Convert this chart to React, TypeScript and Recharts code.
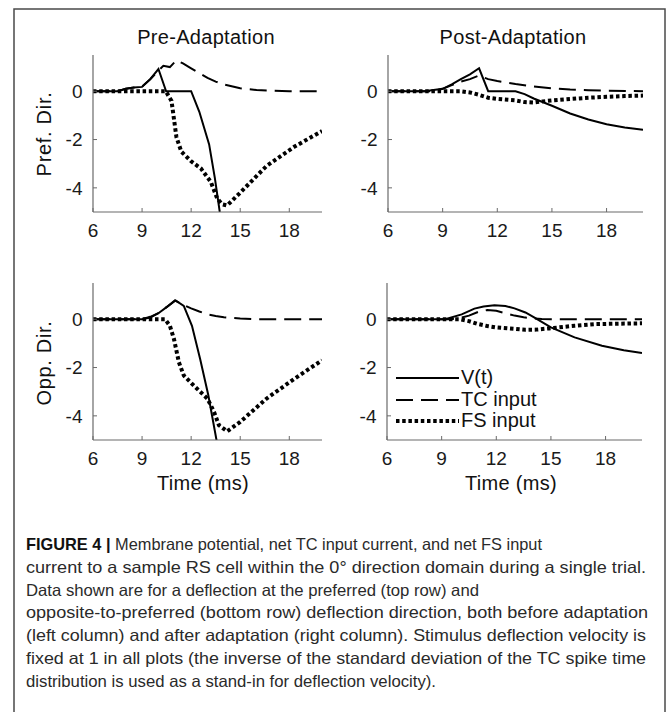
import React from 'react';
import { LineChart, Line, XAxis, YAxis, Legend } from 'recharts';

const FONT = '"Liberation Sans", Arial, Helvetica, sans-serif';

// ---------- axis / label text ----------
const timeTicks = [6, 9, 12, 15, 18];
const valueTicks = [-4, -2, 0];
const columnTitles = ['Pre-Adaptation', 'Post-Adaptation'];
const rowLabels = ['Pref. Dir.', 'Opp. Dir.'];
const xAxisLabel = 'Time (ms)';
const seriesNames = ['V(t)', 'TC input', 'FS input'];

// ---------- Pre-Adaptation, preferred direction ----------
const prePrefVTime = [6, 7.5, 8, 8.5, 9, 9.5, 10, 10.47, 12, 12.5, 13.1, 13.45, 13.75, 13.95];
const prePrefV = [0, 0, 0.1, 0.15, 0.18, 0.5, 0.92, 0, 0, -0.85, -2.2, -3.6, -5, -5.7];
const prePrefTCTime = [6, 7.5, 8, 8.5, 9, 9.5, 10, 10.3, 10.7, 11.1, 11.5, 12, 12.5, 13, 13.5, 14, 15, 16, 17, 18, 20];
const prePrefTC = [0, 0, 0.1, 0.15, 0.2, 0.5, 0.85, 1.05, 1.0, 1.28, 1.15, 0.95, 0.75, 0.55, 0.4, 0.28, 0.12, 0.05, 0.02, 0, 0];
const prePrefFSTime = [6, 10.45, 10.8, 11.1, 11.4, 12.0, 12.6, 13.2, 13.6, 13.9, 14.2, 15.0, 16.6, 18.3, 20];
const prePrefFS = [0, 0, -0.4, -1.9, -2.5, -2.9, -3.2, -3.75, -4.45, -4.68, -4.73, -4.2, -3.1, -2.3, -1.65];

// ---------- Post-Adaptation, preferred direction ----------
const postPrefVTime = [6, 8, 9, 9.5, 10, 10.5, 11, 11.5, 13, 13.5, 14, 15, 16, 17, 18, 19, 20];
const postPrefV = [0, 0, 0.1, 0.28, 0.5, 0.7, 0.95, 0, 0, -0.12, -0.3, -0.6, -0.92, -1.17, -1.37, -1.5, -1.6];
const postPrefTCTime = [6, 8.5, 9, 9.5, 10, 10.5, 11, 11.5, 12, 13, 14, 15, 16, 17, 18, 20];
const postPrefTC = [0, 0, 0.1, 0.25, 0.4, 0.5, 0.65, 0.5, 0.42, 0.3, 0.2, 0.12, 0.07, 0.04, 0.02, 0];
const postPrefFSTime = [6, 10, 10.5, 11, 11.5, 12, 13, 13.5, 14, 14.5, 15, 16, 17, 18, 19, 20];
const postPrefFS = [0, 0, -0.05, -0.15, -0.27, -0.32, -0.38, -0.45, -0.47, -0.42, -0.38, -0.32, -0.27, -0.23, -0.2, -0.18];

// ---------- Pre-Adaptation, opposite direction ----------
const preOppVTime = [6, 9, 9.5, 10, 10.5, 11.05, 11.55, 12.05, 12.55, 13.05, 13.55, 13.7];
const preOppV = [0, 0, 0.07, 0.25, 0.5, 0.78, 0.55, -0.27, -1.65, -3.15, -5.0, -5.6];
const preOppTCTime = [6, 9, 9.5, 10, 10.5, 11, 11.5, 12, 12.5, 13, 13.5, 14, 15, 16, 20];
const preOppTC = [0, 0, 0.1, 0.25, 0.5, 0.78, 0.6, 0.45, 0.32, 0.2, 0.13, 0.08, 0.03, 0, 0];
const preOppFSTime = [6, 10.4, 10.7, 10.95, 11.25, 11.55, 12.15, 13.0, 13.4, 13.7, 14.2, 15.0, 16.6, 18.3, 20];
const preOppFS = [0, 0, -0.27, -0.82, -1.78, -2.33, -2.74, -3.29, -3.84, -4.39, -4.64, -4.25, -3.29, -2.47, -1.7];

// ---------- Post-Adaptation, opposite direction ----------
const postOppVTime = [6, 9.2, 10.1, 10.8, 11.3, 11.9, 12.5, 13.0, 13.6, 14.1, 15.0, 16.3, 17.8, 19, 20];
const postOppV = [0, 0, 0.2, 0.44, 0.53, 0.58, 0.55, 0.45, 0.28, 0.07, -0.34, -0.75, -1.1, -1.28, -1.4];
const postOppTCTime = [6, 9.5, 10, 10.5, 11, 11.5, 12, 12.5, 13, 13.5, 14, 14.5, 15, 20];
const postOppTC = [0, 0, 0.05, 0.15, 0.3, 0.38, 0.35, 0.25, 0.15, 0.08, 0.03, 0.01, 0, 0];
const postOppFSTime = [6, 10, 10.5, 11, 11.5, 12, 13, 13.6, 14.2, 14.9, 16.3, 17.5, 20];
const postOppFS = [0, 0, -0.08, -0.2, -0.28, -0.34, -0.4, -0.44, -0.43, -0.38, -0.27, -0.2, -0.17];

// ---------- caption ----------
const captionLead = 'FIGURE 4 |';
const captionLines = [
  ' Membrane potential, net TC input current, and net FS input',
  'current to a sample RS cell within the 0\u00B0 direction domain during a single trial.',
  'Data shown are for a deflection at the preferred (top row) and',
  'opposite-to-preferred (bottom row) deflection direction, both before adaptation',
  '(left column) and after adaptation (right column). Stimulus deflection velocity is',
  'fixed at 1 in all plots (the inverse of the standard deviation of the TC spike time',
  'distribution is used as a stand-in for deflection velocity).',
];

const toPoints = (ts: number[], vs: number[]) => ts.map((t, i) => ({ t, v: vs[i] }));

const lineStyles: Record<string, { w: number; dash?: string }> = {
  'V(t)': { w: 2 },
  'TC input': { w: 2, dash: '17 8' },
  'FS input': { w: 4, dash: '3.5 2.7' },
};

const panels = [
  { key: 'a', left: 0, top: 0, width: 335, mt: 55, mr: 13, yw: 93, legend: false,
    series: [toPoints(prePrefVTime, prePrefV), toPoints(prePrefTCTime, prePrefTC), toPoints(prePrefFSTime, prePrefFS)] },
  { key: 'b', left: 335, top: 0, width: 335, mt: 55, mr: 27, yw: 53, legend: false,
    series: [toPoints(postPrefVTime, postPrefV), toPoints(postPrefTCTime, postPrefTC), toPoints(postPrefFSTime, postPrefFS)] },
  { key: 'c', left: 0, top: 230, width: 335, mt: 53, mr: 13, yw: 93, legend: false,
    series: [toPoints(preOppVTime, preOppV), toPoints(preOppTCTime, preOppTC), toPoints(preOppFSTime, preOppFS)] },
  { key: 'd', left: 335, top: 230, width: 335, mt: 53, mr: 28, yw: 52, legend: true,
    series: [toPoints(postOppVTime, postOppV), toPoints(postOppTCTime, postOppTC), toPoints(postOppFSTime, postOppFS)] },
];

const renderLegend = (props: any) => {
  const payload = [...(props.payload || [])].sort(
    (a: any, b: any) => seriesNames.indexOf(a.value) - seriesNames.indexOf(b.value)
  );
  return (
    <div style={{ fontFamily: FONT, fontSize: 20, color: '#111' }}>
      {payload.map((entry: any) => {
        const st = lineStyles[entry.value] || { w: 2 };
        return (
          <div key={entry.value} style={{ display: 'flex', alignItems: 'center', height: 21.7, whiteSpace: 'nowrap' }}>
            <svg width={63} height={8} style={{ display: 'block' }}>
              <line x1={0} y1={4} x2={63} y2={4} stroke="#000" strokeWidth={st.w} strokeDasharray={st.dash} />
            </svg>
            <span style={{ marginLeft: 2, lineHeight: '21.7px' }}>{entry.value}</span>
          </div>
        );
      })}
    </div>
  );
};

const axisColor = '#6a6a6a';
const tickStyle = { fill: '#1a1a1a', fontSize: 19, fontFamily: FONT };

function Panel({ p }: { p: any }) {
  return (
    <div style={{ position: 'absolute', left: p.left, top: p.top }}>
      <LineChart width={p.width} height={p.mt + 157 + 38} margin={{ top: p.mt, right: p.mr, bottom: 0, left: 0 }}>
        <XAxis
          type="number"
          dataKey="t"
          domain={[6, 20]}
          ticks={timeTicks}
          interval={0}
          allowDataOverflow
          height={38}
          axisLine={{ stroke: axisColor, strokeWidth: 1.2 }}
          tickLine={{ stroke: axisColor, strokeWidth: 1 }}
          tickSize={-4}
          tickMargin={16}
          tick={tickStyle}
        />
        <YAxis
          type="number"
          domain={[-5, 1.5]}
          ticks={valueTicks}
          interval={0}
          allowDataOverflow
          width={p.yw}
          axisLine={{ stroke: axisColor, strokeWidth: 1.2 }}
          tickLine={{ stroke: axisColor, strokeWidth: 1 }}
          tickSize={-4}
          tickMargin={14.5}
          tick={tickStyle}
        />
        {p.series.map((data: any, i: number) => {
          const name = seriesNames[i];
          const st = lineStyles[name];
          return (
            <Line
              key={name}
              data={data}
              dataKey="v"
              name={name}
              type="linear"
              stroke="#000"
              strokeWidth={st.w}
              strokeDasharray={st.dash}
              dot={false}
              activeDot={false}
              isAnimationActive={false}
            />
          );
        })}
        {p.legend && (
          <Legend
            layout="vertical"
            align="center"
            verticalAlign="middle"
            wrapperStyle={{ left: 61, top: 137, width: 'auto', height: 'auto' }}
            content={renderLegend}
          />
        )}
      </LineChart>
    </div>
  );
}

export default function App() {
  const titleStyle = { fontFamily: FONT, fontSize: 20, fill: '#111', letterSpacing: 0.3 } as any;
  const ylabStyle = { fontFamily: FONT, fontSize: 20, fill: '#111', letterSpacing: 0.7 } as any;
  const captionX = 26;
  const captionWidths = [516, 620, 453, 622, 620, 620, 410];
  return (
    <div style={{ position: 'absolute', left: 0, top: 0, width: 670, height: 712, background: '#fff', overflow: 'hidden' }}>
      <svg width={670} height={712} style={{ position: 'absolute', left: 0, top: 0 }}>
        <rect x={14} y={9} width={651} height={760} fill="none" stroke="#4a4a4a" strokeWidth={1.5} />
      </svg>
      {panels.map((p) => (
        <Panel key={p.key} p={p} />
      ))}
      <svg width={670} height={712} style={{ position: 'absolute', left: 0, top: 0, pointerEvents: 'none' }}>
        <text x={206} y={44} textAnchor="middle" style={titleStyle}>{columnTitles[0]}</text>
        <text x={513} y={44} textAnchor="middle" style={titleStyle}>{columnTitles[1]}</text>
        <text transform="translate(50.5,134) rotate(-90)" textAnchor="middle" style={ylabStyle}>{rowLabels[0]}</text>
        <text transform="translate(50.5,363) rotate(-90)" textAnchor="middle" style={ylabStyle}>{rowLabels[1]}</text>
        <text x={203} y={490} textAnchor="middle" style={titleStyle}>{xAxisLabel}</text>
        <text x={511} y={490} textAnchor="middle" style={titleStyle}>{xAxisLabel}</text>
        {captionLines.map((line, i) => (
          <text
            key={i}
            x={captionX}
            y={550 + i * 22.8}
            textLength={captionWidths[i]}
            lengthAdjust="spacingAndGlyphs"
            style={{ fontFamily: FONT, fontSize: 16.5, fill: '#2a2a2a' }}
          >
            {i === 0 && <tspan style={{ fontWeight: 700, fill: '#111' }}>{captionLead}</tspan>}
            {line}
          </text>
        ))}
      </svg>
    </div>
  );
}
